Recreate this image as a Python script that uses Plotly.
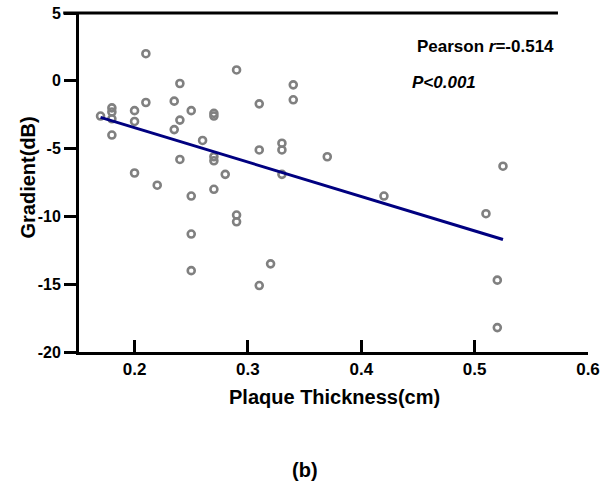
import plotly.graph_objects as go

thickness = [0.17, 0.18, 0.18, 0.18, 0.18, 0.20, 0.20, 0.20, 0.21, 0.21,
             0.22, 0.235, 0.235, 0.24, 0.24, 0.24, 0.25, 0.25, 0.25, 0.25,
             0.26, 0.27, 0.27, 0.27, 0.27, 0.27, 0.28, 0.29, 0.29, 0.29,
             0.31, 0.31, 0.31, 0.32, 0.33, 0.33, 0.33, 0.34, 0.34, 0.37,
             0.42, 0.51, 0.52, 0.52, 0.525]
gradient = [-2.6, -2.0, -2.3, -2.8, -4.0, -2.2, -3.0, -6.8, 2.0, -1.6,
            -7.7, -1.5, -3.6, -0.2, -2.9, -5.8, -2.2, -8.5, -11.3, -14.0,
            -4.4, -2.4, -2.6, -5.6, -5.9, -8.0, -6.9, 0.8, -9.9, -10.4,
            -1.7, -5.1, -15.1, -13.5, -4.6, -5.1, -6.9, -0.3, -1.4, -5.6,
            -8.5, -9.8, -14.7, -18.2, -6.3]
fit_x = [0.17, 0.525]
fit_y = [-2.7, -11.7]
x_ticks = [0.2, 0.3, 0.4, 0.5, 0.6]
y_ticks = [-20, -15, -10, -5, 0, 5]

FONT = "Arial, Liberation Sans, sans-serif"

fig = go.Figure()
fig.add_trace(go.Scatter(
    x=thickness, y=gradient, mode="markers",
    marker=dict(symbol="circle-open", size=7, color="#808080",
                line=dict(width=2.6, color="#808080")),
    showlegend=False, cliponaxis=False))
fig.add_trace(go.Scatter(
    x=fit_x, y=fit_y, mode="lines",
    line=dict(color="#000080", width=3), showlegend=False))

fig.update_layout(
    width=616, height=496,
    margin=dict(l=79, r=28, t=13, b=144, autoexpand=False),
    paper_bgcolor="white", plot_bgcolor="white",
    font=dict(family=FONT, color="black"),
    xaxis=dict(range=[0.151, 0.6], tickvals=x_ticks,
               ticktext=[f"{v:.1f}" for v in x_ticks],
               showgrid=False, zeroline=False, automargin=False,
               ticklabeloverflow="allow",
               showline=True, linecolor="black", linewidth=3,
               ticks="inside", ticklen=12, tickwidth=3, tickcolor="black",
               tickfont=dict(family=FONT, size=17, weight="bold")),
    yaxis=dict(range=[-20, 5], tickvals=y_ticks,
               ticktext=[str(v) for v in y_ticks],
               showgrid=False, zeroline=False, automargin=False,
               ticklabeloverflow="allow",
               showline=True, linecolor="black", linewidth=3,
               ticks="outside", ticklen=12, tickwidth=3, tickcolor="black",
               tickfont=dict(family=FONT, size=16, weight="bold")),
    annotations=[
        dict(text="<b>Plaque Thickness(cm)</b>", xref="paper", yref="paper",
             x=0.501, y=-0.133, xanchor="center", yanchor="middle", showarrow=False,
             font=dict(family=FONT, size=20, color="black")),
        dict(text="<b>Gradient(dB)</b>", xref="paper", yref="paper",
             x=-0.1, y=0.515, xanchor="center", yanchor="middle", showarrow=False,
             textangle=-90, font=dict(family=FONT, size=20, color="black")),
        dict(text="<b>Pearson <i>r</i>=-0.514</b>", xref="paper", yref="paper",
             x=0.66, y=0.9, xanchor="left", yanchor="middle", showarrow=False,
             font=dict(family=FONT, size=17, color="black")),
        dict(text="<b><i>P&lt;0.001</i></b>", xref="paper", yref="paper",
             x=0.65, y=0.794, xanchor="left", yanchor="middle", showarrow=False,
             font=dict(family=FONT, size=17, color="black")),
        dict(text="<b>(b)</b>", xref="paper", yref="paper",
             x=0.444, y=-0.348, xanchor="center", yanchor="middle", showarrow=False,
             font=dict(family=FONT, size=20, color="black")),
    ],
    shapes=[
        dict(type="line", xref="paper", yref="paper", x0=-0.031, x1=0.941,
             y0=1, y1=1, line=dict(color="black", width=3)),
    ],
)

fig.write_html("out.html", config={"displayModeBar": False},
               post_script="document.body.style.margin='0px';")
